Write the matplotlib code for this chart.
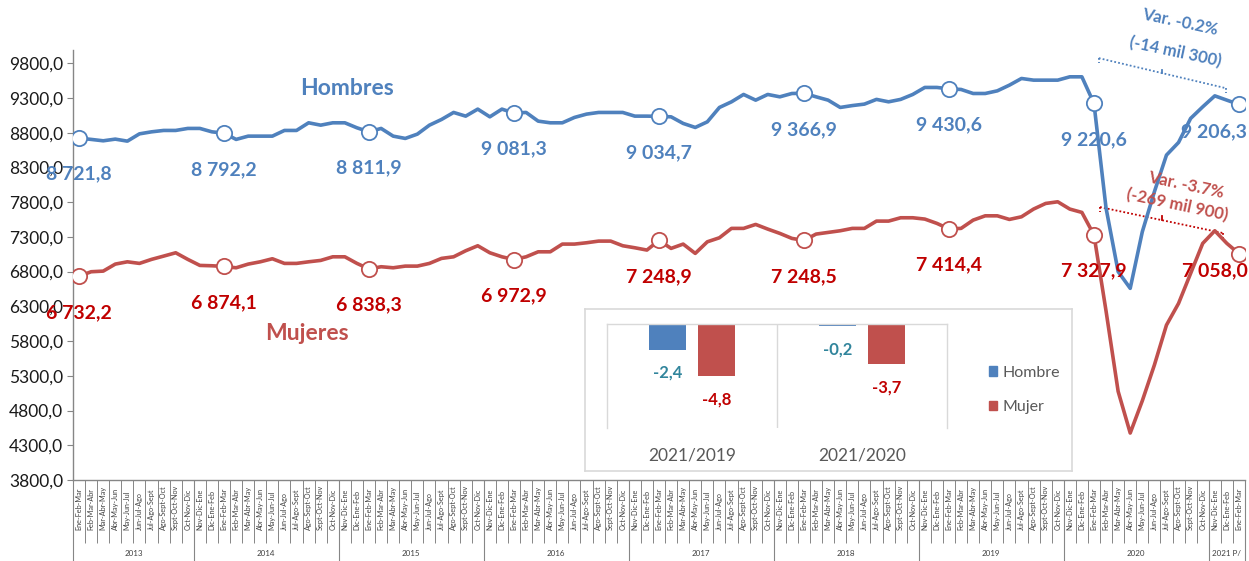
import numpy as np
import matplotlib
matplotlib.use("Agg")
import matplotlib.pyplot as plt
from matplotlib.patches import Patch

plt.rcParams['font.family'] = ['Lato', 'DejaVu Sans']

# Population ocupada por sexo (miles), trimestres móviles 2013 - 2021
trimestres = ["Nov-Dic-Ene", "Dic-Ene-Feb", "Ene-Feb-Mar", "Feb-Mar-Abr", "Mar-Abr-May",
              "Abr-May-Jun", "May-Jun-Jul", "Jun-Jul-Ago", "Jul-Ago-Sept", "Ago-Sept-Oct",
              "Sept-Oct-Nov", "Oct-Nov-Dic"]
years = ["2013", "2014", "2015", "2016", "2017", "2018", "2019", "2020", "2021 P/"]
year_counts = [10, 12, 12, 12, 12, 12, 12, 12, 3]

hombres = [8721.8, 8703, 8683, 8707, 8678, 8783, 8812, 8832, 8832, 8861,
           8861, 8812, 8792.2, 8703, 8750, 8750, 8750, 8832, 8832, 8942,
           8908, 8942, 8942, 8870, 8811.9, 8861, 8750, 8717, 8779, 8908,
           8990, 9091, 9038, 9139, 9028, 9139, 9081.3, 9091, 8966, 8942,
           8942, 9019, 9067, 9091, 9091, 9091, 9038, 9038, 9034.7, 9028,
           8933, 8875, 8956, 9163, 9244, 9350, 9268, 9350, 9316, 9364,
           9366.9, 9316, 9268, 9163, 9190, 9211, 9279, 9244, 9279, 9350,
           9451, 9451, 9430.6, 9422, 9364, 9364, 9402, 9484, 9580, 9556,
           9556, 9556, 9604, 9604, 9220.6, 7714, 6800, 6559, 7373, 7949,
           8477, 8659, 9005, 9172, 9330, 9268, 9206.3]

mujeres = [6732.2, 6798, 6807, 6908, 6941, 6918, 6976, 7023, 7071, 6976,
           6889, 6884, 6874.1, 6855, 6908, 6941, 6985, 6918, 6918, 6941,
           6961, 7013, 7013, 6918, 6838.3, 6870, 6855, 6879, 6879, 6918,
           6990, 7013, 7100, 7172, 7071, 7013, 6972.9, 7013, 7085, 7085,
           7196, 7196, 7215, 7239, 7239, 7172, 7143, 7110, 7248.9, 7134,
           7196, 7062, 7229, 7287, 7422, 7422, 7479, 7412, 7350, 7278,
           7248.5, 7340, 7364, 7388, 7422, 7422, 7527, 7527, 7575, 7575,
           7556, 7494, 7414.4, 7422, 7541, 7603, 7603, 7551, 7589, 7700,
           7781, 7805, 7700, 7652, 7327.9, 6232, 5076, 4476, 4940, 5455,
           6030, 6342, 6774, 7206, 7388, 7206, 7058.0]

marked = list(range(0, 97, 12))

var_cats = ["2021/2019", "2021/2020"]
var_hombre = [-2.4, -0.2]
var_mujer = [-4.8, -3.7]

blue = '#4F81BD'
red = '#C0504D'
dark_red = '#C00000'
axis_gray = '#868686'

labels = (trimestres[2:] + trimestres * 8)[:len(hombres)]


def fmt_miles(v):
    return f"{v:,.1f}".replace(',', ' ').replace('.', ',')


fig = plt.figure(figsize=(12.49, 5.61), dpi=100)
ax = fig.add_axes([73 / 1249, 81 / 561, 1172 / 1249, 430 / 561])

x = np.arange(len(hombres))
ax.plot(x, hombres, color=blue, lw=2.6, solid_joinstyle='round', zorder=3)
ax.plot(x, mujeres, color=red, lw=2.6, solid_joinstyle='round', zorder=3)
hm = np.array(hombres)[marked]
mm = np.array(mujeres)[marked]
ax.plot(marked, hm, 'o', ms=11, mfc='white', mec=blue, mew=1.3, zorder=4)
ax.plot(marked, mm, 'o', ms=11, mfc='white', mec=red, mew=1.3, zorder=4)

for k, i in enumerate(marked):
    off_h = (0, -26) if i != 96 else (-18, -20)
    off_m = (0, -26) if i != 96 else (-17, -12)
    ax.annotate(fmt_miles(hm[k]), (i, hm[k]), xytext=off_h, textcoords='offset points',
                ha='center', va='center', fontsize=14, fontweight='bold', color=blue, zorder=5)
    ax.annotate(fmt_miles(mm[k]), (i, mm[k]), xytext=off_m, textcoords='offset points',
                ha='center', va='center', fontsize=14, fontweight='bold', color=dark_red, zorder=5)

ax.text(22.2, 9441, "Hombres", color=blue, fontsize=16.5, fontweight='bold', ha='center', va='center')
ax.text(18.9, 5915, "Mujeres", color=red, fontsize=16.5, fontweight='bold', ha='center', va='center')

# brackets with variation
def bracket(x0, y0, x1, y1, color, tick):
    ax.plot([x0, x1], [y0, y1], ls=(0, (1, 1.2)), color=color, lw=1.3, clip_on=False)
    ax.plot([x0, x0], [y0, y0 - tick], ls=(0, (1, 1.2)), color=color, lw=1.3, clip_on=False)
    ax.plot([x1, x1], [y1, y1 - tick], ls=(0, (1, 1.2)), color=color, lw=1.3, clip_on=False)
    xm, ym = (x0 + x1) / 2, (y0 + y1) / 2
    ax.plot([xm, xm], [ym, ym + tick * 0.7], color=color, lw=1.3, clip_on=False)


bracket(84.4, 9873, 94.9, 9441, blue, 70)
bracket(84.5, 7729, 94.7, 7354, dark_red, 75)

ax.text(91.1, 10390, "Var. -0.2%", color=blue, fontsize=12, fontweight='bold',
        rotation=-12, ha='center', va='center', clip_on=False)
ax.text(90.7, 9959, "(-14 mil 300)", color=blue, fontsize=12, fontweight='bold',
        rotation=-12, ha='center', va='center', clip_on=False)
ax.text(91.6, 8045, "Var. -3.7%", color=red, fontsize=12, fontweight='bold',
        rotation=-12, ha='center', va='center', clip_on=False)
ax.text(90.9, 7757, "(-269 mil 900)", color=red, fontsize=12, fontweight='bold',
        rotation=-12, ha='center', va='center', clip_on=False)

ax.set_xlim(-0.5, len(hombres) - 0.5)
ax.set_ylim(3800, 9990)
yt = np.arange(3800, 9801, 500)
ax.set_yticks(yt)
ax.set_yticklabels([f"{v:.1f}".replace('.', ',') for v in yt], fontsize=12.5, color='#1a1a1a')
ax.tick_params(axis='y', length=4, color=axis_gray, pad=3)
ax.set_xticks([])
for s in ['top', 'right']:
    ax.spines[s].set_visible(False)
for s in ['left', 'bottom']:
    ax.spines[s].set_color(axis_gray)
    ax.spines[s].set_linewidth(1)

# multi-level category axis
tr = ax.get_xaxis_transform()
for i, lab in enumerate(labels):
    ax.text(i, -0.1163, lab, transform=tr, rotation=90, ha='center', va='bottom',
            fontsize=5.2, color='#404040', clip_on=False)
ax.vlines(np.arange(-0.5, len(hombres)), -0.147, 0, transform=tr, colors=axis_gray,
          lw=0.7, clip_on=False)
bounds = np.concatenate([[0], np.cumsum(year_counts)]) - 0.5
ax.vlines(bounds, -0.19, 0, transform=tr, colors=axis_gray, lw=0.8, clip_on=False)
for k, yr in enumerate(years):
    ax.text((bounds[k] + bounds[k + 1]) / 2, -0.17, yr, transform=tr, ha='center',
            va='center', fontsize=5.8, color='#404040', clip_on=False)

# inset bar chart
box = fig.add_axes([585 / 1249, 90 / 561, 487 / 1249, 162 / 561])
box.set_xticks([])
box.set_yticks([])
for s in box.spines.values():
    s.set_color('#D9D9D9')
    s.set_linewidth(1.2)
box.set_facecolor('white')

bx = fig.add_axes([607 / 1249, 133 / 561, 340 / 1249, 104 / 561])
bx.patch.set_alpha(0)
pos = np.arange(len(var_cats))
bx.bar(pos - 0.143, var_hombre, width=0.22, color=blue)
bx.bar(pos + 0.143, var_mujer, width=0.22, color=red)
for p, v in zip(pos, var_hombre):
    bx.annotate(f"{v:.1f}".replace('.', ','), (p - 0.143, v), xytext=(0, -16.5),
                textcoords='offset points', ha='center', va='center', fontsize=12,
                fontweight='bold', color='#31859C')
for p, v in zip(pos, var_mujer):
    bx.annotate(f"{v:.1f}".replace('.', ','), (p + 0.143, v), xytext=(0, -17),
                textcoords='offset points', ha='center', va='center', fontsize=12,
                fontweight='bold', color=dark_red)
bx.set_xlim(-0.5, 1.5)
bx.set_ylim(-9.6, 0)
bx.axvline(0.5, color='#D9D9D9', lw=1)
bx.set_yticks([])
bx.set_xticks(pos)
bx.set_xticklabels(var_cats, fontsize=12.5, color='#595959')
bx.tick_params(axis='x', length=0, pad=14)
bx.spines['bottom'].set_visible(False)
for s in ['top', 'left', 'right']:
    bx.spines[s].set_color('#D9D9D9')
    bx.spines[s].set_linewidth(1)

handles = [Patch(color=blue, label='Hombre'), Patch(color=red, label='Mujer')]
fig.legend(handles=handles, loc='center left', bbox_to_anchor=(975 / 1249, 1 - 390 / 561),
           frameon=False, fontsize=11.5, labelcolor='#595959', handlelength=0.5,
           handleheight=0.5, labelspacing=1.3, handletextpad=0.35)

fig.savefig("out.png", dpi=100)
